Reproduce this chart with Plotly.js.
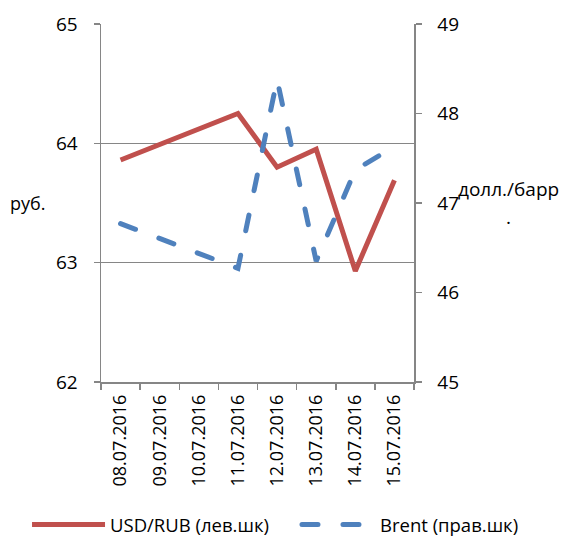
<!DOCTYPE html>
<html><head><meta charset="utf-8">
<script src="https://cdn.plot.ly/plotly-3.0.1.min.js"></script>
<style>html,body{margin:0;padding:0;background:#fff}#chart{width:563px;height:538px}</style>
</head><body><div id="chart"></div>
<script>
const dates = ['08.07.2016','09.07.2016','10.07.2016','11.07.2016','12.07.2016','13.07.2016','14.07.2016','15.07.2016'];
const usdRub = [63.86, null, null, 64.25, 63.80, 63.95, 62.93, 63.69];
const brent = [46.77, null, null, 46.27, 48.38, 46.35, 47.37, 47.63];
const seriesNames = ['USD/RUB (лев.шк)', 'Brent (прав.шк)'];
const leftTitle = 'руб.';
const rightTitleLines = ['долл./барр', '.'];

const FONT = '"Open Sans", sans-serif';
const GRAY = '#868686';
const RED = '#C0504D';
const BLUE = '#4F81BD';

const traces = [
  {type:'scatter', mode:'lines', x:dates, y:usdRub, name:seriesNames[0], connectgaps:true,
   line:{color:RED, width:5}, yaxis:'y', legend:'legend'},
  {type:'scatter', mode:'lines', x:dates, y:brent, name:seriesNames[1], connectgaps:true,
   line:{color:BLUE, width:5, dash:'16px,25px'}, yaxis:'y2', legend:'legend2'}
];

const axisCommon = {ticks:'outside', ticklen:6, tickcolor:GRAY, tickwidth:1.5,
  showline:true, linecolor:GRAY, linewidth:1.5, zeroline:false, fixedrange:true,
  automargin:false, tickfont:{size:19}};

const legendCommon = {orientation:'h', xref:'container', yref:'container', y:0.024,
  xanchor:'left', yanchor:'middle', itemwidth:73, bgcolor:'rgba(0,0,0,0)', font:{size:18.5}};

const layout = {
  width:563, height:538,
  margin:{l:101, r:149, t:24, b:156},
  paper_bgcolor:'#fff', plot_bgcolor:'#fff',
  font:{family:FONT, size:19, color:'#000'},
  showlegend:true,
  legend:Object.assign({}, legendCommon, {x:0.048}),
  legend2:Object.assign({}, legendCommon, {x:0.5275}),
  xaxis:Object.assign({}, axisCommon, {type:'category', tickson:'boundaries', tickangle:-90,
    showgrid:false, range:[-0.5,7.5], ticklabelstandoff:4, tickfont:{size:18}}),
  yaxis:Object.assign({}, axisCommon, {range:[62,65], tick0:62, dtick:1, showgrid:true,
    gridcolor:GRAY, gridwidth:1.5, ticklabelstandoff:12}),
  yaxis2:Object.assign({}, axisCommon, {overlaying:'y', side:'right', range:[45,49], tick0:45, dtick:1,
    showgrid:false, ticklabelstandoff:12}),
  annotations:[
    {text:leftTitle, xref:'paper', yref:'paper', x:-0.235, y:0.5, xanchor:'center', yanchor:'middle', showarrow:false, font:{size:18}},
    {text:rightTitleLines[0], xref:'paper', yref:'paper', x:1.302, y:0.539, xanchor:'center', yanchor:'middle', showarrow:false, font:{size:19}},
    {text:rightTitleLines[1], xref:'paper', yref:'paper', x:1.302, y:0.461, xanchor:'center', yanchor:'middle', showarrow:false, font:{size:19}}
  ]
};

Plotly.newPlot('chart', traces, layout, {displayModeBar:false, staticPlot:true}).then(function(gd){
  // rounded dash ends for the Brent line, as in the reference
  gd.querySelectorAll('path').forEach(function(p){
    var s = (p.style.stroke || '').replace(/\s/g,'');
    if (s === 'rgb(79,129,189)') p.style.strokeLinecap = 'round';
  });
});
</script>
</body></html>
